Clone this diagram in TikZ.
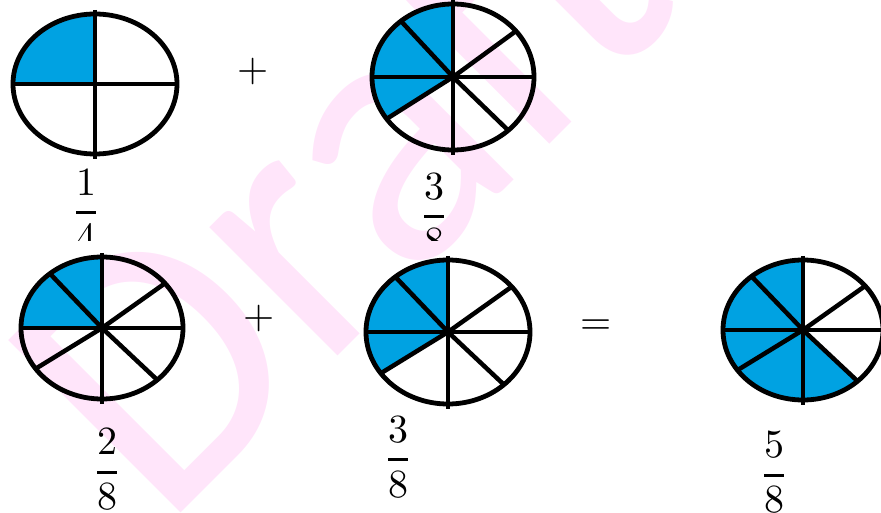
\documentclass[tikz,border=0pt]{standalone}
\usepackage{amsmath}
\usepackage{fontspec}
\usepackage{unicode-math}
\usetikzlibrary{calc}
\newfontfamily\wmfont{Carlito}
\definecolor{pieblue}{RGB}{0,162,226}
\definecolor{wmpink}{RGB}{255,229,250}
\tikzset{
  rim/.style={draw=black, line width=4.8pt},
  spoke/.style={draw=black, line width=4.5pt},
  slice/.style={fill=pieblue},
  fracnode/.style={anchor=base, inner sep=0pt, font=\fontsize{40}{48}\selectfont},
  opnode/.style={anchor=base, inner sep=0pt, font=\fontsize{40}{48}\selectfont},
  wmark/.style={anchor=base west, inner sep=0pt, transform shape, text=wmpink,
                font=\wmfont\fontsize{380}{380}\selectfont},
}
\newcommand{\piefrac}[2]{$\genfrac{}{}{3pt}{0}{#1}{#2}$}

\begin{document}
\begin{tikzpicture}[x=1pt, y=1pt]
  \useasboundingbox (0,0) rectangle (881,512);
  \clip (0,0) rectangle (881,512);

  % --- watermark ----------------------------------------------------
  \begin{scope}[shift={(163,-19)}, rotate=45, xscale=0.96]
    \node[wmark] (draft) at (0,0) {Draft};
  \end{scope}

  % --- pie centres --------------------------------------------------
  \coordinate (quarter) at (95,428);
  \coordinate (eA) at (453,435);
  \coordinate (eB) at (102,184);
  \coordinate (eC) at (448,180);
  \coordinate (eD) at (803,182);

  % one of four
  \fill[slice] (quarter) -- ++(90:82pt and 70pt)
        arc[start angle=90, end angle=180, x radius=82pt, y radius=70pt] -- cycle;
  \draw[spoke] ($(quarter)+(-84,0)$) -- ($(quarter)+(84,0)$);
  \draw[spoke] ($(quarter)+(0,74)$) -- ($(quarter)+(0,-75)$);
  \draw[rim] (quarter) ellipse[x radius=82pt, y radius=70pt];

  % eighths
  \foreach \c/\rx/\ry/\e in {eA/81/73/215, eB/81/71/180, eC/82/72/215, eD/80/70/313} {
    \fill[slice] (\c) -- ++(90:\rx pt and \ry pt)
          arc[start angle=90, end angle=\e, x radius=\rx pt, y radius=\ry pt] -- cycle;
    \foreach \a in {39,130,215,313}
      \draw[spoke] (\c) -- ++(\a:\rx pt and \ry pt);
    \draw[spoke] ($(\c)+(0,\ry+4)$) -- ($(\c)+(0,-\ry-5)$);
    \draw[spoke] ($(\c)+(-\rx,0)$) -- ($(\c)+(\rx,0)$);
    \draw[rim] (\c) ellipse[x radius=\rx pt, y radius=\ry pt];
  }

  % --- signs --------------------------------------------------------
  \node[opnode] (plusA) at (253,430) {$+$};
  \node[opnode] (plusB) at (259,183) {$+$};
  \node[opnode] (eq)    at (596,178) {$=$};

  % --- fractions (top row cut off) -----------------------------------
  \begin{scope}
    \clip (0,271) rectangle (881,512);
    \node[fracnode] (fq)  at (86,289)  {\piefrac{1}{4}};
    \node[fracnode] (fa)  at (434,285) {\piefrac{3}{8}};
  \end{scope}
  \node[fracnode] (fb) at (107,30) {\piefrac{2}{8}};
  \node[fracnode] (fc) at (398,42) {\piefrac{3}{8}};
  \node[fracnode] (fd) at (774,27) {\piefrac{5}{8}};

\end{tikzpicture}
\end{document}
